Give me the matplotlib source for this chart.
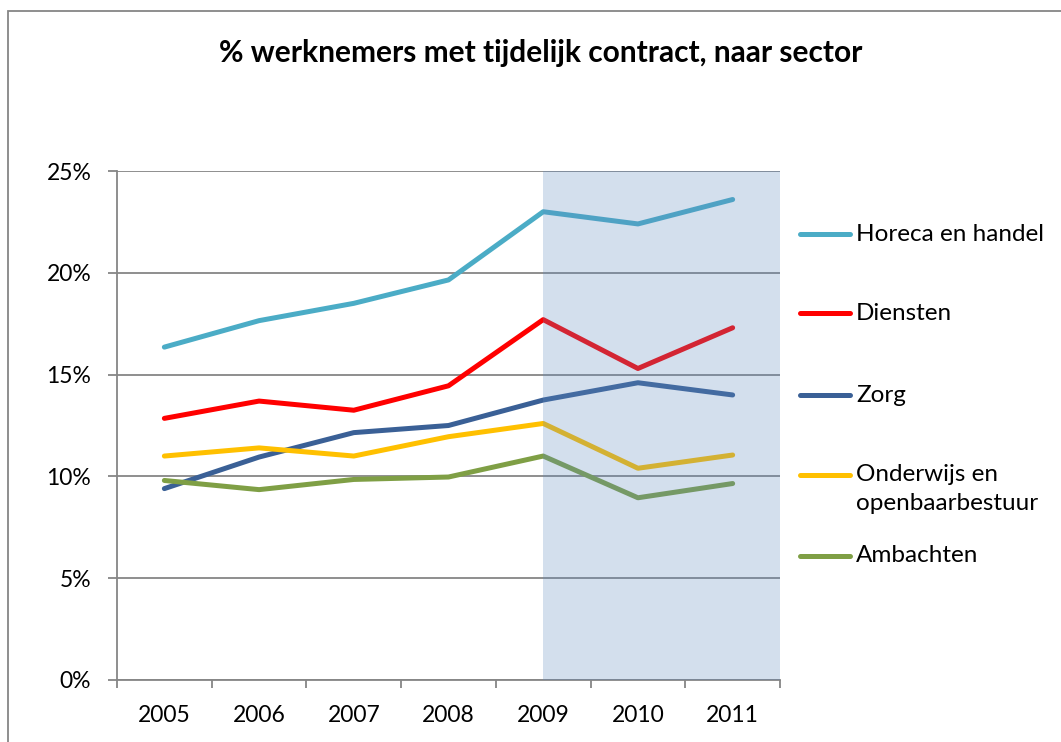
import matplotlib
matplotlib.use("Agg")
import matplotlib.pyplot as plt
from matplotlib.lines import Line2D
from matplotlib.patches import Rectangle
from matplotlib.ticker import FuncFormatter, FixedLocator

# Data (aandeel werknemers met tijdelijk contract, %)
jaren = ['2005', '2006', '2007', '2008', '2009', '2010', '2011']
sectoren = ['Horeca en handel', 'Diensten', 'Zorg',
            'Onderwijs en\nopenbaarbestuur', 'Ambachten']
horeca = [16.35, 17.65, 18.5, 19.65, 23.0, 22.4, 23.6]
diensten = [12.85, 13.7, 13.25, 14.45, 17.7, 15.3, 17.3]
zorg = [9.4, 10.95, 12.15, 12.5, 13.75, 14.6, 14.0]
onderwijs = [11.0, 11.4, 11.0, 11.95, 12.6, 10.4, 11.05]
ambachten = [9.8, 9.35, 9.85, 9.97, 11.0, 8.95, 9.65]
kleuren = ['#4BACC6', '#FF0000', '#3A6096', '#FFC000', '#7F9F45']

reeksen = [horeca, diensten, zorg, onderwijs, ambachten]

plt.rcParams['font.family'] = ['Lato', 'DejaVu Sans']

fig = plt.figure(figsize=(10.61, 7.42), dpi=100)
ax = fig.add_axes([117 / 1061, 62 / 742, 663 / 1061, 509 / 742])

x = list(range(len(jaren)))
for waarden, kleur in zip(reeksen, kleuren):
    ax.plot(x, waarden, color=kleur, lw=3.6, solid_capstyle='round',
            solid_joinstyle='round', zorder=3)

# gearceerde periode 2009-2011 (over de lijnen heen)
ax.axvspan(4, 6.5, color='#5D89C0', alpha=0.27, lw=0, zorder=4)

ax.set_xlim(-0.5, 6.5)
ax.set_ylim(0, 25)
ax.set_yticks([0, 5, 10, 15, 20, 25])
ax.yaxis.set_major_formatter(FuncFormatter(lambda v, p: f'{v:.0f}%'))
ax.grid(axis='y', color='#868686', lw=1.3, zorder=2)
ax.set_axisbelow(False)

ax.xaxis.set_major_locator(FixedLocator([i - 0.5 for i in range(8)]))
ax.xaxis.set_minor_locator(FixedLocator(x))
ax.set_xticklabels([], minor=False)
ax.set_xticklabels(jaren, minor=True)
ax.tick_params(axis='x', which='major', length=6, width=1.3, color='#868686')
ax.tick_params(axis='x', which='minor', length=0, pad=18, labelsize=16.5)
ax.tick_params(axis='y', length=6.5, width=1.3, color='#868686', pad=12,
               labelsize=16.5)

for s in ['top', 'right']:
    ax.spines[s].set_visible(False)
for s in ['left', 'bottom']:
    ax.spines[s].set_color('#868686')
    ax.spines[s].set_linewidth(1.3)

fig.text(541 / 1061, 1 - 53 / 742,
         '% werknemers met tijdelijk contract, naar sector',
         ha='center', va='center', fontsize=21.5, fontweight='bold')

# legenda
leg_y = [234, 313, 395, 475, 556]
for naam, kleur, py in zip(sectoren, kleuren, leg_y):
    yf = 1 - py / 742
    fig.add_artist(Line2D([800 / 1061, 850 / 1061], [yf, yf], color=kleur,
                          lw=3.6, solid_capstyle='round'))
    if '\n' in naam:
        fig.text(856 / 1061, 1 - (py - 11) / 742, naam, ha='left', va='top',
                 fontsize=17.5, linespacing=1.45)
    else:
        fig.text(856 / 1061, yf, naam, ha='left', va='center', fontsize=17.5)

# kader van de grafiek
fig.add_artist(Rectangle((8 / 1061, -0.1), 1.2, 1.1 - 11 / 742,
                         transform=fig.transFigure, fill=False,
                         edgecolor='#868686', lw=1.3))

fig.savefig('out.png', dpi=100)
